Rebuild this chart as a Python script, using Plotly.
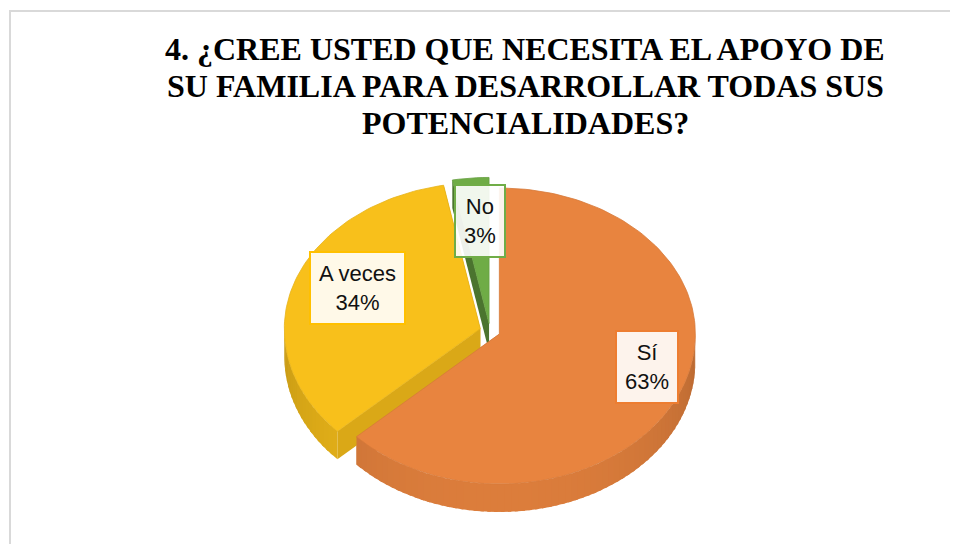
import numpy as np
import plotly.graph_objects as go

# ---------------- data ----------------
labels = ["Sí", "A veces", "No"]
values = [63, 34, 3]
top_colors = ["#E8843F", "#F8C01B", "#6FAC46"]
border_colors = ["#ED7D31", "#FFC000", "#70AD47"]
title_lines = [
    "4. ¿CREE USTED QUE NECESITA EL APOYO DE",
    "SU FAMILIA PARA DESARROLLAR TODAS SUS",
    "POTENCIALIDADES?",
]

# ---------------- geometry (layout constants, in page pixels) ----------------
PAGE_W, PAGE_H = 958, 544
BODY = 8  # default page margin around the plot div
W, H = PAGE_W - BODY, PAGE_H - BODY
CX, CY = 490, 331
RX, RY_BACK, RY_FRONT = 196, 146, 150
DEPTH = 28
EXPLODE = 0.052
label_pos = [(647, 367), (357, 288), (480, 221)]
title_y = [49, 86, 123]


def shade(hexcol, f):
    h = hexcol.lstrip("#")
    r, g, b = (int(h[i:i + 2], 16) for i in (0, 2, 4))
    return "rgb(%d,%d,%d)" % (min(255, r * f), min(255, g * f), min(255, b * f))


def pt(cx, cy, a_deg):
    a = np.radians(a_deg)
    c = np.cos(a)
    ry = np.where(c >= 0, RY_BACK, RY_FRONT)
    return cx + RX * np.sin(a), cy - ry * c


total = float(sum(values))
fracs = [v / total for v in values]
starts = np.concatenate([[0], np.cumsum(fracs)[:-1]]) * 360
ends = np.cumsum(fracs) * 360

slices = []
for i, (a0, a1) in enumerate(zip(starts, ends)):
    mid = (a0 + a1) / 2
    cx = CX + EXPLODE * RX * np.sin(np.radians(mid))
    cy = CY - EXPLODE * RY_BACK * np.cos(np.radians(mid))
    slices.append((cx, cy, a0, a1))

fig = go.Figure()


def poly(xs, ys, fill, line_col=None, lw=0):
    xs, ys = list(xs), list(ys)
    fig.add_trace(go.Scatter(
        x=xs + [xs[0]], y=ys + [ys[0]], mode="lines", fill="toself",
        fillcolor=fill, line=dict(color=line_col or fill, width=lw),
        hoverinfo="skip", showlegend=False))


# 1. cut faces
for i, (cx, cy, a0, a1) in enumerate(slices):
    for a in (a0, a1):
        px, py = pt(cx, cy, a)
        poly([cx, px, px, cx], [cy, py, py + DEPTH, cy + DEPTH],
             shade(top_colors[i], 0.88 if i != 2 else 0.68))

# 2. outer walls (front half only), shaded in overlapping strips
for i, (cx, cy, a0, a1) in enumerate(slices):
    lo, hi = max(a0, 90), min(a1, 270)
    if hi <= lo:
        continue
    n = max(1, int((hi - lo) / 2))
    edges = np.linspace(lo, hi, n + 1)
    for s in range(n):
        e1 = min(hi, edges[s + 1] + 1.0)
        t = np.linspace(edges[s], e1, 5)
        xs, ys = pt(cx, cy, t)
        f = 0.80 + 0.15 * np.cos(np.radians((edges[s] + edges[s + 1]) / 2 - 180))
        col = shade(top_colors[i], f)
        poly(list(xs) + list(xs[::-1]), list(ys) + list(ys[::-1] + DEPTH), col, col, 0)

# 3. top faces (back to front)
for i in [2, 1, 0]:
    cx, cy, a0, a1 = slices[i]
    t = np.linspace(a0, a1, max(3, int((a1 - a0) / 1.5)))
    xs, ys = pt(cx, cy, t)
    poly([cx] + list(xs), [cy] + list(ys), top_colors[i], shade(top_colors[i], 0.93), 0.8)

# labels
annotations = []
for i, (lab, v) in enumerate(zip(labels, values)):
    x, y = label_pos[i]
    annotations.append(dict(
        x=x, y=y, xref="x", yref="y", showarrow=False,
        text=f"{lab}<br>{round(v / total * 100)}%",
        font=dict(family="Liberation Sans", size=22, color="#111111"),
        bgcolor="rgba(255,255,255,0.9)", bordercolor=border_colors[i],
        borderwidth=2, borderpad=8, align="center"))

for line, ty in zip(title_lines, title_y):
    annotations.append(dict(
        x=525, y=ty, xref="x", yref="y", showarrow=False, yanchor="middle",
        text="<b>" + line + "</b>",
        font=dict(family="Liberation Serif", size=32, color="#000000"), align="center"))

fig.update_layout(
    width=W, height=H, margin=dict(l=0, r=0, t=0, b=0),
    paper_bgcolor="white", plot_bgcolor="white",
    xaxis=dict(range=[BODY, PAGE_W], visible=False, fixedrange=True),
    yaxis=dict(range=[PAGE_H, BODY], visible=False, fixedrange=True),
    annotations=annotations,
    shapes=[dict(type="rect", xref="x", yref="y", x0=10, y0=11, x1=PAGE_W + 5, y1=PAGE_H + 5,
                 line=dict(color="#D9D9D9", width=2), fillcolor="rgba(0,0,0,0)", layer="below")],
)

fig.write_html("out.html")
